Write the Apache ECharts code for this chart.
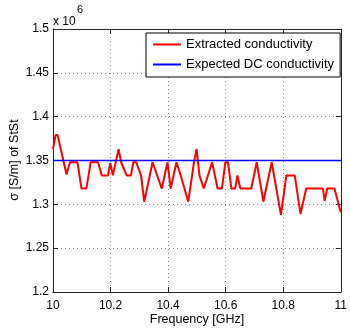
<!DOCTYPE html>
<html>
<head>
<meta charset="utf-8">
<script src="https://cdn.jsdelivr.net/npm/echarts@6/dist/echarts.min.js"></script>
<style>html,body{margin:0;padding:0;background:#fff;}#c{width:350px;height:328px;}</style>
</head>
<body>
<div id="c"></div>
<script>
// Frequency [GHz]
var freq = [10.000, 10.009, 10.016, 10.047, 10.059, 10.085, 10.099, 10.116, 10.131, 10.156, 10.170, 10.191, 10.199, 10.208, 10.228, 10.237, 10.256, 10.271, 10.279, 10.289, 10.306, 10.317, 10.346, 10.378, 10.398, 10.409, 10.429, 10.444, 10.449, 10.470, 10.490, 10.499, 10.509, 10.524, 10.553, 10.572, 10.587, 10.599, 10.608, 10.620, 10.633, 10.641, 10.651, 10.689, 10.708, 10.731, 10.760, 10.792, 10.811, 10.840, 10.860, 10.880, 10.938, 10.944, 10.953, 10.978, 11.000];
// Extracted conductivity [x 10^6 S/m]
var sigma = [1.363, 1.379, 1.379, 1.334, 1.348, 1.348, 1.318, 1.318, 1.348, 1.348, 1.333, 1.333, 1.347, 1.333, 1.363, 1.348, 1.333, 1.333, 1.348, 1.348, 1.333, 1.303, 1.348, 1.318, 1.348, 1.318, 1.348, 1.333, 1.333, 1.303, 1.348, 1.363, 1.333, 1.318, 1.348, 1.318, 1.318, 1.348, 1.348, 1.318, 1.318, 1.333, 1.318, 1.318, 1.348, 1.303, 1.348, 1.288, 1.333, 1.333, 1.289, 1.318, 1.318, 1.304, 1.318, 1.318, 1.291];
// Expected DC conductivity [x 10^6 S/m]
var dcFreq = [10, 11];
var dcSigma = [1.35, 1.35];
var xTicks = [10, 10.2, 10.4, 10.6, 10.8, 11];
var yTicks = [1.2, 1.25, 1.3, 1.35, 1.4, 1.45, 1.5];
var seriesNames = ['Extracted conductivity', 'Expected DC conductivity'];

var FONT = 'Liberation Sans, Arial, Helvetica, sans-serif';
var axisCol = '#262626';
var gridLine = {show: true, lineStyle: {color: '#8a8a8a', type: [1, 3], width: 1}};
function fmt(v){ return String(parseFloat(v.toFixed(2))); }

var chart = echarts.init(document.getElementById('c'), null, {renderer: 'canvas'});
chart.setOption({
  animation: false,
  backgroundColor: '#fff',
  grid: {left: 53, top: 29, right: 7, bottom: 36, show: false},
  xAxis: [{
    type: 'value', min: xTicks[0], max: xTicks[xTicks.length-1], interval: 0.2,
    axisLine: {show: true, onZero: false, lineStyle: {color: axisCol, width: 1}},
    axisTick: {show: true, inside: true, length: 5, lineStyle: {color: axisCol}},
    axisLabel: {color: '#000', fontFamily: FONT, fontSize: 12, margin: 8, formatter: fmt},
    splitLine: gridLine
  }, {
    type: 'value', position: 'top', min: xTicks[0], max: xTicks[xTicks.length-1], interval: 0.2,
    axisLine: {show: true, onZero: false, lineStyle: {color: axisCol, width: 1}},
    axisTick: {show: true, inside: true, length: 5, lineStyle: {color: axisCol}},
    axisLabel: {show: false}, splitLine: {show: false}
  }],
  yAxis: [{
    type: 'value', min: yTicks[0], max: yTicks[yTicks.length-1], interval: 0.05,
    axisLine: {show: true, onZero: false, lineStyle: {color: axisCol, width: 1}},
    axisTick: {show: true, inside: true, length: 5, lineStyle: {color: axisCol}},
    axisLabel: {color: '#000', fontFamily: FONT, fontSize: 12, margin: 4, formatter: fmt},
    splitLine: gridLine
  }, {
    type: 'value', position: 'right', min: yTicks[0], max: yTicks[yTicks.length-1], interval: 0.05,
    axisLine: {show: true, onZero: false, lineStyle: {color: axisCol, width: 1}},
    axisTick: {show: true, inside: true, length: 5, lineStyle: {color: axisCol}},
    axisLabel: {show: false}, splitLine: {show: false}
  }],
  legend: {
    left: 146, top: 33, orient: 'vertical',
    backgroundColor: '#fff', borderColor: '#000', borderWidth: 1,
    padding: [4, 6, 5, 7], itemGap: 5, itemWidth: 28, itemHeight: 2,
    icon: 'rect',
    textStyle: {color: '#000', fontFamily: FONT, fontSize: 13, lineHeight: 15},
    data: seriesNames
  },
  series: [{
    name: seriesNames[0], type: 'line', showSymbol: false, symbol: 'none',
    data: freq.map(function(f, i){ return [f, sigma[i]]; }),
    lineStyle: {color: '#ff0000', width: 2}, itemStyle: {color: '#ff0000'}, z: 3
  }, {
    name: seriesNames[1], type: 'line', showSymbol: false, symbol: 'none',
    data: dcFreq.map(function(f, i){ return [f, dcSigma[i]]; }),
    lineStyle: {color: '#0000ff', width: 1.5}, itemStyle: {color: '#0000ff'}, z: 4
  }],
  graphic: [
    {type: 'text', left: 53, top: 16, style: {text: 'x 10', font: '12px ' + FONT, fill: '#000'}},
    {type: 'text', left: 77, top: 4, style: {text: '6', font: '11px ' + FONT, fill: '#000'}},
    {type: 'text', x: 15, y: 160, rotation: Math.PI / 2,
     style: {text: 'σ [S/m] of StSt', font: '12.5px ' + FONT, fill: '#000', align: 'center', verticalAlign: 'middle'}},
    {type: 'text', x: 197, y: 320, style: {text: 'Frequency [GHz]', font: '12.5px ' + FONT, fill: '#000', align: 'center', verticalAlign: 'middle'}}
  ]
});
</script>
</body>
</html>
